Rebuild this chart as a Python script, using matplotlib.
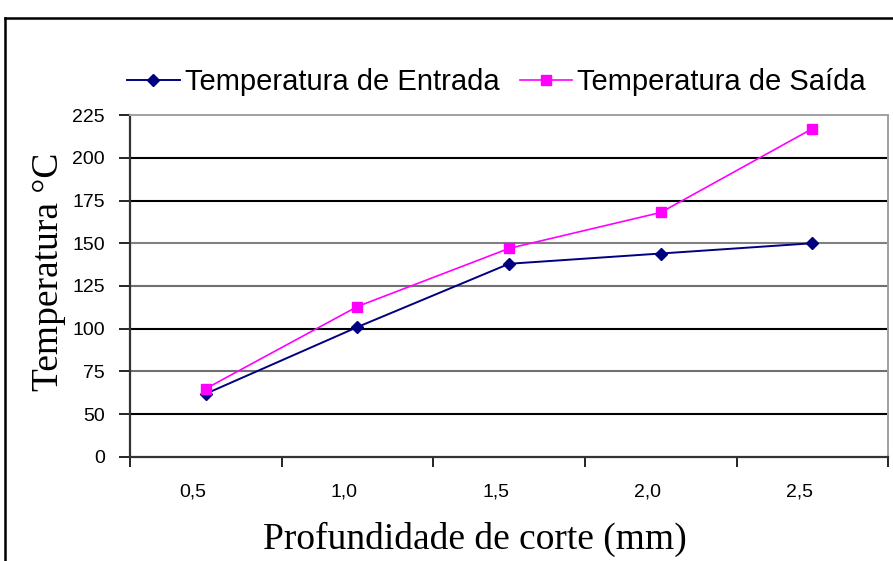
import matplotlib.pyplot as plt
from matplotlib.lines import Line2D
from matplotlib.transforms import ScaledTranslation

# cutting depth (mm) and measured temperatures (°C)
profundidade = ["0,5", "1,0", "1,5", "2,0", "2,5"]
temp_entrada = [62, 101, 138, 144, 150]
temp_saida = [65, 113, 147, 168, 217]

# y axis: the bottom tick is labelled "0" although the scale starts at 25
y_ticks = [25, 50, 75, 100, 125, 150, 175, 200, 225]
y_labels = ["0", "50", "75", "100", "125", "150", "175", "200", "225"]

plt.rcParams['font.family'] = ['Liberation Sans', 'DejaVu Sans']

fig = plt.figure(figsize=(8.93, 5.61), dpi=100)
ax = fig.add_axes([0.1456, 0.1854, 0.849, 0.6096])

x = list(range(len(profundidade)))

# horizontal grid lines
grid_colors = ["black", "#707070", "black", "#707070", "#808080", "black", "black"]
for yv, c in zip(y_ticks[1:-1], grid_colors):
    ax.axhline(yv, color=c, lw=1.5, zorder=1)

ax.plot(x, temp_entrada, color="#000080", lw=1.4, marker="D", markersize=6.5,
        label="Temperatura de Entrada", zorder=3)
ax.plot(x, temp_saida, color="#ff00ff", lw=1.2, marker="s", markersize=7,
        label="Temperatura de Saída", zorder=3)

ax.set_xlim(-0.5, len(profundidade) - 0.5)
ax.set_ylim(25, 225)

# category axis: tick marks between categories, labels centred
ax.set_xticks([i - 0.5 for i in range(len(profundidade) + 1)])
ax.set_xticklabels([])
ax.set_xticks(x, minor=True)
ax.set_xticklabels(profundidade, minor=True, fontsize=14)
ax.tick_params(axis="x", which="major", direction="out", length=7, width=1.2, color="black")
ax.tick_params(axis="x", which="minor", length=0, pad=19)
shift = ScaledTranslation(-0.13, 0, fig.dpi_scale_trans)
for lbl in ax.get_xticklabels(minor=True):
    lbl.set_transform(lbl.get_transform() + shift)

ax.set_yticks(y_ticks)
ax.set_yticklabels(y_labels, fontsize=14)
ax.tick_params(axis="y", direction="out", length=8, width=1.2, color="black", pad=10)

for side in ["left", "bottom"]:
    ax.spines[side].set_color("#333333")
    ax.spines[side].set_linewidth(1.6)
for side in ["top", "right"]:
    ax.spines[side].set_color("#a0a0a0")
    ax.spines[side].set_linewidth(1.4)

ax.set_ylabel("Temperatura °C", family="Liberation Serif", fontsize=27)
ax.yaxis.set_label_coords(-0.084, 0.541)
ax.set_xlabel("Profundidade de corte (mm)", family="Liberation Serif", fontsize=27)
ax.xaxis.set_label_coords(0.455, -0.19)

fig.legend(loc="center", bbox_to_anchor=(0.556, 0.854), ncol=2, frameon=False,
           fontsize=21, handlelength=1.8, handletextpad=0.17, columnspacing=0.7)

# outer chart frame, cut off at the right and bottom
fig.add_artist(Line2D([0.0056, 0.0056], [0.968, 0.0], transform=fig.transFigure,
                      color="black", lw=1.8))
fig.add_artist(Line2D([0.0056, 1.0], [0.968, 0.968], transform=fig.transFigure,
                      color="black", lw=1.8))

fig.savefig("out.png", dpi=100)
